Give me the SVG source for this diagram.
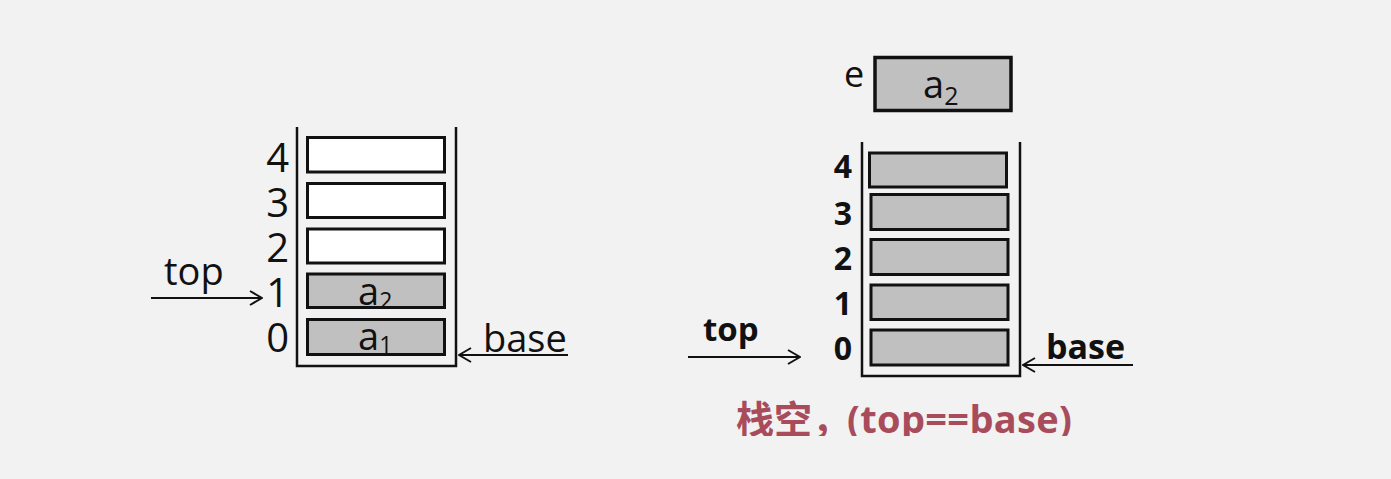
<svg xmlns="http://www.w3.org/2000/svg" width="1391" height="479" viewBox="0 0 1391 479">
<defs>
<style>
.bg{fill:#f2f2f2}
.wall{fill:none;stroke:#111;stroke-width:2.5}
.cell{fill:#ffffff;stroke:#111;stroke-width:3}
.full{fill:#c0c0c0;stroke:#111;stroke-width:3}
.ebox{fill:#c0c0c0;stroke:#111;stroke-width:3.5}
.conn{fill:none;stroke:#111;stroke-width:2}
.t{font-family:"Open Sans","Noto Sans","DejaVu Sans",sans-serif;fill:#111}
.b{font-family:"Open Sans","Noto Sans","DejaVu Sans",sans-serif;font-weight:bold;fill:#111}
.red{font-family:"Open Sans","Noto Sans CJK SC",sans-serif;font-weight:bold;fill:#a84c5c;font-size:38px}
</style>
<marker id="arr" viewBox="0 0 14 16" refX="13" refY="8" markerWidth="14" markerHeight="16" markerUnits="userSpaceOnUse" orient="auto">
<polyline points="1,1 13,8 1,15" fill="none" stroke="#111" stroke-width="2"/>
</marker>
<clipPath id="clipRed"><rect x="0" y="0" width="1391" height="436"/></clipPath>
</defs>
<rect class="bg" x="0" y="0" width="1391" height="479"/>

<g id="left-stack">
<polyline class="wall" points="297,127 297,366 456,366 456,127"/>
<rect class="cell" x="307.5" y="137.5" width="137" height="34.5"/>
<rect class="cell" x="307.5" y="183.5" width="137" height="34"/>
<rect class="cell" x="307.5" y="229" width="137" height="34"/>
<rect class="full" x="307.5" y="274" width="137" height="33.5"/>
<rect class="full" x="307.5" y="319.5" width="137" height="35"/>
<text class="t" font-size="40" text-anchor="end" x="289" y="172">4</text>
<text class="t" font-size="40" text-anchor="end" x="289" y="217">3</text>
<text class="t" font-size="40" text-anchor="end" x="289" y="262">2</text>
<text class="t" font-size="40" text-anchor="end" x="289" y="307">1</text>
<text class="t" font-size="40" text-anchor="end" x="289" y="352">0</text>
<text class="t" font-size="38" x="358" y="305">a<tspan font-size="23" dy="4">2</tspan></text>
<text class="t" font-size="38" x="358" y="350">a<tspan font-size="23" dy="3">1</tspan></text>
<text class="t" font-size="38" x="164" y="285">top</text>
<text class="t" font-size="38" x="483" y="352">base</text>
</g>

<g id="right-stack">
<polyline class="wall" points="862,142 862,376 1020,376 1020,142"/>
<rect class="full" x="869.5" y="153" width="137" height="34"/>
<rect class="full" x="871" y="194.5" width="137" height="35"/>
<rect class="full" x="871" y="239.5" width="137" height="35"/>
<rect class="full" x="871" y="285" width="137" height="34.5"/>
<rect class="full" x="871" y="330" width="137" height="35"/>
<text class="b" font-size="32" text-anchor="end" x="852" y="178">4</text>
<text class="b" font-size="32" text-anchor="end" x="852" y="225">3</text>
<text class="b" font-size="32" text-anchor="end" x="852" y="270">2</text>
<text class="b" font-size="32" text-anchor="end" x="852" y="315">1</text>
<text class="b" font-size="32" text-anchor="end" x="852" y="360">0</text>
<text class="b" font-size="33" x="703" y="341">top</text>
<text class="b" font-size="34" x="1046" y="359">base</text>
</g>

<g id="e-box">
<rect class="ebox" x="875" y="57.5" width="136" height="53"/>
<text class="t" font-size="36" x="844" y="87">e</text>
<text class="t" font-size="38" x="923" y="98">a<tspan font-size="25" dy="7">2</tspan></text>
</g>

<g id="caption" clip-path="url(#clipRed)">
<text class="red" y="433"><tspan x="736">栈空，</tspan><tspan x="847" textLength="225" lengthAdjust="spacing">(top==base)</tspan></text>
</g>

<g id="connectors">
<line class="conn" x1="151" y1="298" x2="262" y2="298" marker-end="url(#arr)"/>
<line class="conn" x1="568" y1="355" x2="459" y2="355" marker-end="url(#arr)"/>
<line class="conn" x1="688" y1="357" x2="800" y2="357" marker-end="url(#arr)"/>
<line class="conn" x1="1133" y1="365" x2="1023" y2="365" marker-end="url(#arr)"/>
</g>
</svg>
